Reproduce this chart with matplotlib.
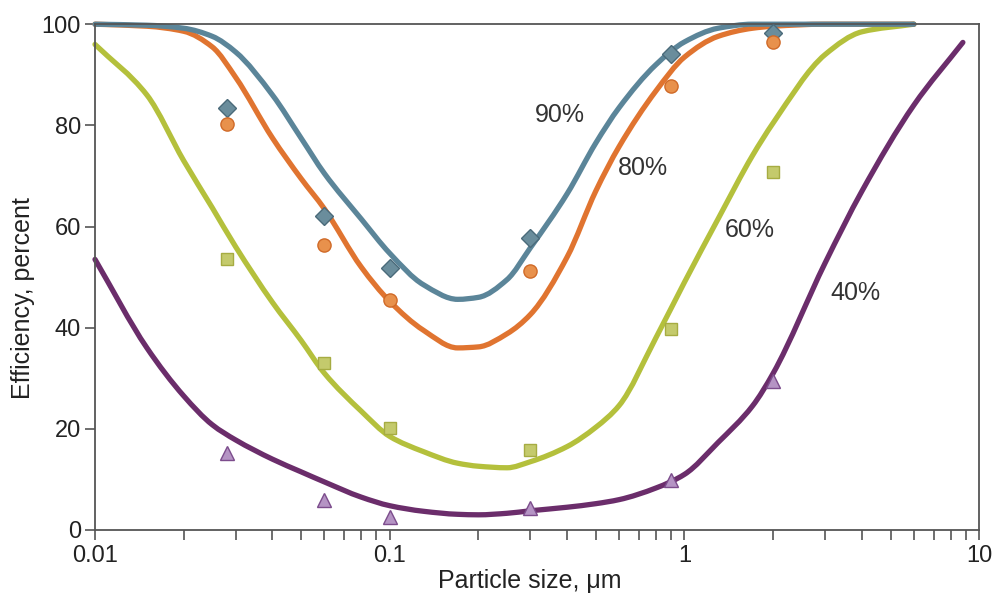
import numpy as np
import matplotlib
matplotlib.use("Agg")
import matplotlib.pyplot as plt
from matplotlib.path import Path
from matplotlib.patches import PathPatch
from matplotlib.ticker import LogLocator, NullFormatter, FixedLocator

plt.rcParams['font.family'] = ['Liberation Sans', 'DejaVu Sans']

#%% Data
# fitted curves, particle size in um
size_fit = [0.01, 0.015, 0.02, 0.025, 0.03, 0.04, 0.05, 0.06, 0.08, 0.1,
            0.13, 0.17, 0.2, 0.25, 0.3, 0.4, 0.5, 0.6, 0.8, 1.0,
            1.3, 1.7, 2.0, 3.0, 4.0, 6.0]
eff_90 = [100, 99.8, 99.2, 97.6, 94.5, 86, 77.5, 70.5, 61.5, 54.7,
          48.5, 45.6, 46, 49.5, 55.8, 66.5, 76.5, 83.5, 92, 96.5,
          99.2, 100, 100, 100, 100, 100]
eff_80 = [100, 99.6, 98.6, 95.5, 89.5, 77.5, 69.5, 63.5, 52, 45.2,
          39.5, 36, 36.2, 38.8, 42.6, 54, 67, 75.8, 86.8, 93.5,
          97.6, 99.2, 99.6, 100, 100, 100]
eff_60 = [96, 86, 73, 63.7, 56, 45, 37.5, 31, 23.5, 18.5,
          15.5, 13.2, 12.6, 12.3, 13.5, 16.5, 20.3, 24.6, 38, 49,
          61.5, 74, 80.5, 94, 98.5, 100]
size_fit_40 = size_fit + [8.8]
eff_40 = [53.5, 36, 26.5, 20.8, 17.8, 14, 11.5, 9.5, 6.5, 4.8,
          3.7, 3.1, 3.0, 3.3, 3.8, 4.5, 5.2, 6.0, 8.3, 11,
          17.3, 24.5, 31, 52.8, 67, 84, 96.4]

# measured points
size_meas = [0.028, 0.06, 0.1, 0.3, 0.9, 2.0]
meas_90 = [83.4, 62.1, 51.8, 57.7, 94.2, 98.3]
meas_80 = [80.2, 56.3, 45.5, 51.2, 87.8, 96.4]
meas_60 = [53.6, 33.0, 20.2, 15.8, 39.7, 70.8]
meas_40 = [15.2, 5.9, 2.6, 4.4, 9.9, 29.5]

labels = ['90%', '80%', '60%', '40%']
label_pos = [(0.378, 82), (0.72, 71.5), (1.67, 59.3), (3.79, 46.8)]


def smooth_path(xs, ys):
    # monotone cubic (pchip style) through the points, in log-x, as bezier path
    lx = np.log10(np.asarray(xs, float))
    y = np.asarray(ys, float)
    h = np.diff(lx)
    d = np.diff(y) / h
    m = np.zeros_like(y)
    m[0], m[-1] = d[0], d[-1]
    for k in range(1, len(y) - 1):
        if d[k - 1] * d[k] > 0:
            w1 = 2 * h[k] + h[k - 1]
            w2 = h[k] + 2 * h[k - 1]
            m[k] = (w1 + w2) / (w1 / d[k - 1] + w2 / d[k])
    verts = [(xs[0], y[0])]
    codes = [Path.MOVETO]
    for k in range(len(h)):
        c1 = (10 ** (lx[k] + h[k] / 3), y[k] + m[k] * h[k] / 3)
        c2 = (10 ** (lx[k + 1] - h[k] / 3), y[k + 1] - m[k + 1] * h[k] / 3)
        verts += [c1, c2, (xs[k + 1], y[k + 1])]
        codes += [Path.CURVE4] * 3
    return Path(verts, codes)


#%% Plot
fig = plt.figure(figsize=(9.98, 6.05), dpi=100)
ax = fig.add_axes([0.0952, 0.124, 0.886, 0.836])

curves = [(size_fit, eff_60, '#b4c03c'),
          (size_fit_40, eff_40, '#6b2d6b'),
          (size_fit, eff_80, '#e07430'),
          (size_fit, eff_90, '#5b8599')]
for xs, ys, c in curves:
    ax.add_patch(PathPatch(smooth_path(xs, ys), facecolor='none', edgecolor=c,
                           lw=3.8, capstyle='round', joinstyle='round',
                           zorder=2, clip_on=False))

ax.plot(size_meas, meas_90, 'D', ms=9, mfc='#6a8d9c', mec='#4a6a7a', mew=1, ls='none', zorder=3)
ax.plot(size_meas, meas_80, 'o', ms=9.5, mfc='#e8914c', mec='#d06a28', mew=1, ls='none', zorder=3)
ax.plot(size_meas, meas_60, 's', ms=9, mfc='#c4ca6c', mec='#a6ac42', mew=1, ls='none', zorder=3)
ax.plot(size_meas, meas_40, '^', ms=10, mfc='#b594c4', mec='#7c4c8c', mew=1, ls='none', zorder=3)

for txt, (xx, yy) in zip(labels, label_pos):
    ax.text(xx, yy, txt, fontsize=18, color='#333333', ha='center', va='center')

ax.set_xscale('log')
ax.set_xlim(0.01, 10)
ax.set_ylim(0, 100)
ax.xaxis.set_major_locator(FixedLocator([0.01, 0.1, 1, 10]))
ax.set_xticklabels(['0.01', '0.1', '1', '10'])
ax.xaxis.set_minor_locator(LogLocator(base=10, subs=np.arange(2, 10)))
ax.xaxis.set_minor_formatter(NullFormatter())
ax.set_yticks([0, 20, 40, 60, 80, 100])

for sp in ax.spines.values():
    sp.set_color('#555555')
    sp.set_linewidth(1.3)
ax.tick_params(axis='both', which='both', direction='out', length=7, width=1.2,
               color='#555555', labelsize=17, labelcolor='#222222')
ax.tick_params(axis='x', pad=4)
ax.tick_params(axis='y', pad=3)

ax.set_xlabel('Particle size, \u03bcm', fontsize=18, color='#222222')
ax.set_ylabel('Efficiency, percent', fontsize=18, color='#222222')
ax.xaxis.set_label_coords(0.492, -0.078)
ax.yaxis.set_label_coords(-0.068, 0.458)

fig.savefig('out.png', dpi=100)
